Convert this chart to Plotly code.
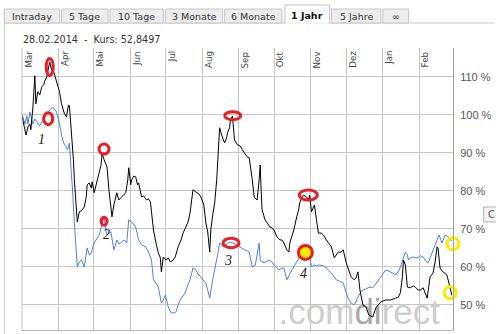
import plotly.graph_objects as go
import pandas as pd

# ---------------- data ----------------
START = pd.Timestamp("2013-03-01")

month_labels = ["Mär", "Apr", "Mai", "Jun", "Jul", "Aug", "Sep", "Okt", "Nov", "Dez", "Jan", "Feb"]
month_starts = ["2013-03-01", "2013-04-01", "2013-05-01", "2013-06-01", "2013-07-01", "2013-08-01",
                "2013-09-01", "2013-10-01", "2013-11-01", "2013-12-01", "2014-01-01", "2014-02-01"]
y_ticks = [50, 60, 70, 80, 90, 100, 110]
y_tick_labels = ["50 %", "60 %", "70 %", "80 %", "90 %", "100 %", "110 %"]

# days since 01.03.2013, value in % of start
black_day = [0, 1.7, 3.4, 5.0, 6.7, 7.5, 9.2, 10.9, 11.7, 13.4, 15.1, 16.8, 18.4, 19.3, 21.0, 21.8, 23.5, 25.1, 26.0, 27.7,
             29.3, 31.8, 33.5, 35.2, 36.0, 37.7, 39.4, 40.2, 41.1, 41.9, 42.7, 43.6, 44.4, 46.1, 46.9, 48.6, 51.1, 52.8, 54.5, 55.3,
             57.0, 58.7, 59.5, 61.2, 62.9, 65.4, 67.0, 67.9, 69.6, 72.1, 73.7, 76.3, 77.9, 80.4, 82.1, 83.8, 86.3, 88.0, 89.7, 90.5,
             92.2, 93.0, 94.7, 96.4, 98.0, 98.9, 101.4, 103.1, 105.6, 107.3, 108.9, 109.8, 111.5, 114.0, 115.6, 117.3, 118.2, 119.8, 122.3, 124.0,
             125.7, 128.2, 129.9, 132.4, 134.9, 136.6, 139.1, 140.8, 142.5, 144.1, 145.0, 147.5, 150.0, 151.7, 154.2, 155.9, 157.5, 159.2, 160.1, 161.7,
             163.4, 165.1, 165.9, 166.8, 167.6, 169.3, 171.8, 173.5, 174.3, 176.0, 176.8, 178.5, 179.3, 180.2, 182.7, 185.2, 186.9, 188.6, 191.1, 192.7,
             194.4, 195.3, 196.9, 199.4, 201.1, 202.0, 202.8, 203.6, 206.1, 207.8, 210.3, 212.0, 213.7, 216.2, 218.7, 220.4, 222.1, 224.6, 226.3, 227.1,
             228.8, 230.5, 233.0, 234.6, 235.5, 237.2, 238.8, 241.3, 243.0, 243.9, 245.5, 248.0, 249.7, 251.4, 253.9, 255.6, 258.1, 260.6, 262.3, 264.8,
             266.5, 268.2, 270.7, 272.4, 274.9, 277.4, 279.1, 281.6, 283.2, 284.9, 286.6, 289.1, 291.6, 294.1, 297.5, 300.0, 302.5, 304.2, 308.4, 312.6,
             316.8, 319.3, 320.9, 322.6, 323.5, 325.1, 326.8, 329.3, 331.8, 333.5, 336.0, 337.7, 340.2, 341.9, 343.6, 346.1, 348.6, 350.3, 352.0, 352.8,
             354.5, 357.0, 358.7, 360.3, 362.9, 364.5]
black_pct = [99.7, 97.4, 94.7, 96.8, 97.6, 96.1, 101.8, 110.3, 102.9, 106.1, 105.3, 107.4, 107.9, 108.9, 110.0, 111.3, 113.9, 111.8, 112.1, 110.5,
             108.9, 106.1, 102.9, 101.3, 100.3, 99.5, 102.6, 102.4, 98.7, 97.6, 93.4, 88.2, 82.9, 76.3, 71.8, 74.5, 75.0, 75.8, 78.4, 81.6,
             82.1, 80.8, 82.4, 79.5, 81.6, 84.7, 86.8, 90.0, 88.2, 86.3, 80.3, 73.2, 76.3, 79.5, 77.6, 78.2, 78.9, 79.5, 82.9, 86.1,
             81.6, 82.9, 83.9, 83.7, 81.6, 82.1, 78.4, 78.7, 77.6, 77.9, 77.1, 73.7, 69.7, 65.8, 63.7, 62.4, 58.7, 62.6, 61.8, 62.4,
             61.3, 61.8, 62.6, 65.3, 67.1, 68.9, 70.5, 71.8, 74.2, 77.6, 80.3, 79.7, 79.2, 78.4, 76.3, 71.6, 69.2, 63.9, 69.7, 73.7,
             76.8, 82.9, 86.8, 90.8, 96.6, 94.7, 92.6, 93.9, 95.3, 96.6, 98.7, 99.7, 96.1, 93.4, 92.1, 91.8, 90.8, 90.0, 88.9, 88.7,
             85.5, 82.9, 78.4, 77.6, 82.9, 86.8, 80.3, 75.0, 72.4, 71.6, 70.5, 70.3, 69.7, 67.9, 67.1, 67.1, 66.3, 64.5, 63.9, 66.3,
             67.9, 69.7, 73.2, 75.0, 76.8, 78.2, 78.9, 78.4, 77.6, 78.9, 74.5, 76.3, 72.4, 68.9, 68.9, 68.4, 67.1, 66.1, 65.3, 62.4,
             63.2, 63.9, 63.9, 64.5, 61.1, 58.7, 57.4, 56.6, 57.1, 58.7, 53.9, 50.0, 49.5, 47.4, 46.8, 49.2, 50.3, 50.8, 51.3, 51.3,
             51.8, 52.1, 53.2, 57.4, 61.8, 60.5, 54.7, 54.5, 55.0, 54.7, 53.9, 53.9, 54.5, 53.2, 51.8, 57.4, 58.4, 61.3, 65.3, 65.0,
             59.7, 58.7, 58.4, 57.9, 54.7, 52.6]

blue_day = [0, 1.7, 2.5, 4.2, 5.0, 6.7, 8.4, 9.2, 10.9, 12.6, 15.1, 16.8, 19.3, 21.8, 23.5, 26.0, 27.7, 29.3, 31.8, 33.5,
            34.4, 36.0, 37.7, 38.5, 40.2, 41.9, 42.7, 44.4, 46.9, 48.6, 50.3, 52.8, 55.3, 57.0, 58.7, 61.2, 63.7, 65.4, 67.0, 68.7,
            69.6, 71.2, 72.1, 73.7, 75.4, 77.9, 80.4, 82.1, 83.8, 86.3, 88.8, 90.5, 91.3, 93.0, 94.7, 96.4, 98.9, 101.4, 104.8, 107.3,
            109.8, 111.5, 114.0, 115.6, 118.2, 119.8, 121.5, 124.0, 125.7, 126.5, 129.1, 130.7, 132.4, 134.1, 136.6, 138.3, 140.8, 142.5, 145.0, 147.5,
            149.2, 151.7, 153.4, 155.9, 157.5, 159.2, 161.7, 164.2, 165.9, 167.6, 170.1, 171.8, 174.3, 176.0, 178.5, 180.2, 182.7, 184.4, 186.9, 188.6,
            191.1, 192.7, 195.3, 197.8, 199.4, 201.1, 202.0, 203.6, 205.3, 207.8, 209.5, 212.0, 213.7, 216.2, 217.9, 220.4, 222.1, 224.6, 227.1, 228.8,
            230.5, 233.0, 234.6, 237.2, 238.8, 241.3, 243.0, 245.5, 248.0, 249.7, 252.2, 255.6, 258.1, 262.3, 264.8, 266.5, 269.0, 272.4, 274.9, 276.5,
            279.1, 281.6, 283.2, 284.9, 287.4, 289.1, 291.6, 293.3, 295.8, 297.5, 300.0, 302.5, 304.2, 308.4, 310.9, 312.6, 315.1, 316.8, 319.3, 320.9,
            323.5, 325.1, 326.8, 327.7, 329.3, 331.8, 333.5, 336.0, 337.7, 340.2, 341.9, 344.4, 346.1, 348.6, 350.3, 352.0, 353.6, 355.3, 356.2, 357.8,
            358.7, 360.3, 362.9, 364.5]
blue_pct = [100.3, 98.7, 97.6, 99.7, 97.6, 100.8, 98.9, 97.6, 98.9, 98.2, 97.1, 98.2, 99.5, 100.5, 101.3, 102.1, 101.3, 100.8, 97.6, 94.5,
            93.4, 92.1, 91.6, 90.8, 92.6, 84.2, 81.1, 71.6, 60.0, 61.3, 61.8, 60.0, 65.0, 63.2, 63.7, 66.3, 67.6, 68.4, 70.3, 72.4,
            72.9, 69.7, 68.4, 68.9, 69.2, 64.5, 67.1, 66.1, 66.3, 67.1, 66.3, 72.4, 72.1, 71.8, 71.1, 70.5, 67.1, 65.8, 65.3, 63.9,
            61.8, 56.6, 55.5, 54.7, 50.5, 51.3, 52.6, 49.5, 48.4, 47.9, 47.9, 48.2, 50.0, 51.3, 52.4, 53.2, 55.3, 56.6, 59.7, 59.2,
            58.2, 57.4, 56.6, 55.8, 53.9, 51.8, 56.6, 60.0, 63.2, 66.3, 65.5, 65.3, 66.3, 66.6, 66.3, 66.3, 65.8, 65.3, 64.7, 64.5,
            64.2, 63.9, 60.0, 60.5, 63.2, 66.3, 61.8, 61.3, 61.1, 61.6, 61.8, 61.3, 60.5, 59.7, 59.2, 59.7, 59.7, 56.6, 58.4, 59.2,
            60.0, 61.3, 62.4, 63.7, 64.5, 64.7, 64.5, 60.0, 60.5, 60.3, 60.5, 60.3, 59.7, 58.4, 57.4, 56.6, 56.3, 55.8, 53.2, 51.8,
            50.5, 50.0, 50.8, 52.1, 53.4, 53.9, 54.2, 54.5, 54.7, 54.5, 55.5, 56.6, 57.6, 59.2, 58.9, 58.7, 58.2, 57.9, 58.9, 60.0,
            62.4, 63.9, 63.2, 61.8, 62.4, 62.6, 62.4, 62.4, 62.9, 62.6, 61.8, 61.1, 62.4, 64.5, 65.8, 67.1, 68.4, 67.1, 66.3, 67.6,
            68.4, 68.2, 67.6, 66.8]

# highlighted spots (day, %) and numbered labels
red_day = [23.5, 22.2, 69.6, 69.6, 178.7, 177.3, 242.8, 240.3]
red_pct = [112.6, 99.0, 91.0, 72.0, 99.8, 66.3, 78.9, 63.8]
yellow_day = [365.4, 363.1]
yellow_pct = [66.1, 53.2]
label_text = ["1", "2", "3", "4", "1"]
label_day = [16.2, 71.5, 174.9, 238.3, 365.9]
label_pct = [93.4, 68.4, 61.8, 58.2, 48.0]

tab_labels = ["Intraday", "5 Tage", "10 Tage", "3 Monate", "6 Monate", "1 Jahr", "5 Jahre", "\u221e"]
header_text = "28.02.2014\u00a0\u00a0-\u00a0\u00a0Kurs: 52,8497"

# ---------------- styling ----------------
W, H = 496, 334
ML, MR, MT, MB = 22, 38, 48, 4


def px(x):
    return (x - ML) / (W - ML - MR)


def py(y):
    return (H - MB - y) / (H - MT - MB)


def d(day):
    return (START + pd.Timedelta(days=day)).strftime("%Y-%m-%d %H:%M")


GRID = "#c4c4c4"
RED = "#ec1c24"
YEL = "#ffe900"

red_w = [7, 9, 10, 6, 16, 16, 18, 14]
red_h = [17, 12, 10, 8, 8, 9.5, 10, 14]
red_fill = [None, None, None, None, None, None, None, YEL]

fig = go.Figure()

# watermark (drawn first so lines sit on top)
fig.add_trace(go.Scatter(
    x=[d(286)], y=[47.4], mode="text",
    text=[".com<span style='color:#a8a8a8'>di</span>rect"],
    textfont=dict(size=35, family="Liberation Sans, Arial", color="#cdcdcd"),
    textposition="middle center", cliponaxis=False, hoverinfo="skip", showlegend=False))

fig.add_trace(go.Scatter(x=[d(v) for v in blue_day], y=blue_pct, mode="lines",
                         line=dict(color="#4f80d9", width=1), hoverinfo="skip", showlegend=False))
fig.add_trace(go.Scatter(x=[d(v) for v in black_day], y=black_pct, mode="lines",
                         line=dict(color="#000000", width=1), hoverinfo="skip", showlegend=False))
fig.add_trace(go.Scatter(x=[d(v) for v in yellow_day], y=yellow_pct, mode="markers",
                         marker=dict(symbol="circle-open", size=12, color=YEL, line=dict(width=3)),
                         cliponaxis=False, hoverinfo="skip", showlegend=False))

shapes = []
for dd, pp, w, h, f in zip(red_day, red_pct, red_w, red_h, red_fill):
    s = dict(type="circle", xref="x", yref="y", xsizemode="pixel", ysizemode="pixel",
             xanchor=d(dd), yanchor=pp, x0=-w / 2, x1=w / 2, y0=-h / 2, y1=h / 2,
             line=dict(color=RED, width=3), layer="above")
    if f:
        s["fillcolor"] = f
    shapes.append(s)

# left grid edge
shapes.append(dict(type="line", xref="paper", yref="paper", x0=0, x1=0, y0=0, y1=1,
                   line=dict(color=GRID, width=1)))
# widget frame
shapes.append(dict(type="line", xref="paper", yref="paper", x0=px(4), x1=px(4), y0=py(23), y1=py(340),
                   line=dict(color="#cccccc", width=1)))
shapes.append(dict(type="line", xref="paper", yref="paper", x0=px(4), x1=px(500), y0=py(23), y1=py(23),
                   line=dict(color="#c8c8c8", width=1)))

tab_x = [(4, 60), (62, 109), (111, 165), (167, 225), (227, 285), (288, 333), (335, 385), (387, 413)]
annotations = []
for i, (lab, (x0, x1)) in enumerate(zip(tab_labels, tab_x)):
    active = (i == 5)
    shapes.append(dict(type="rect", xref="paper", yref="paper", x0=px(x0), x1=px(x1),
                       y0=py(23), y1=py(5 if active else 9),
                       fillcolor="#ffffff" if active else "#ececec",
                       line=dict(color="#c6c6c6", width=1)))
    annotations.append(dict(x=px((x0 + x1) / 2), y=py(16.5 if not active else 15.5), xref="paper", yref="paper",
                            text=("<b>%s</b>" % lab) if active else lab, showarrow=False,
                            xanchor="center", yanchor="middle",
                            font=dict(size=9.5, family="DejaVu Sans", color="#111" if active else "#333")))
shapes.append(dict(type="line", xref="paper", yref="paper", x0=px(288.7), x1=px(332.3), y0=py(23), y1=py(23),
                   line=dict(color="#ffffff", width=1.5)))

# cut-off button at right
shapes.append(dict(type="rect", xref="paper", yref="paper", x0=px(489), x1=px(502), y0=py(222), y1=py(207),
                   fillcolor="#f3f3f3", line=dict(color="#b0b0b0", width=1)))
annotations.append(dict(x=px(491), y=py(214.5), xref="paper", yref="paper", text="C", showarrow=False,
                        xanchor="left", yanchor="middle", font=dict(size=10, family="DejaVu Sans", color="#555")))

# header
annotations.append(dict(x=px(21), y=py(40), xref="paper", yref="paper", text=header_text, showarrow=False,
                        xanchor="left", yanchor="middle", font=dict(size=9.6, family="DejaVu Sans", color="#333")))

# month labels (rotated)
for m, lab in zip(month_starts, month_labels):
    annotations.append(dict(x=m, y=1, xref="x", yref="paper", text=lab, textangle=-90, showarrow=False,
                            xanchor="left", yanchor="top", xshift=-1, yshift=-1,
                            font=dict(size=8.7, family="DejaVu Sans", color="#444")))

# numbered labels
for t, dd, pp in zip(label_text, label_day, label_pct):
    annotations.append(dict(x=d(dd), y=pp, xref="x", yref="y", text="<i>%s</i>" % t, showarrow=False,
                            xanchor="center", yanchor="middle",
                            font=dict(size=14, family="Liberation Serif", color="#222")))

fig.update_layout(
    width=W, height=H, margin=dict(l=ML, r=MR, t=MT, b=MB, pad=0),
    paper_bgcolor="white", plot_bgcolor="white",
    showlegend=False, shapes=shapes, annotations=annotations,
    xaxis=dict(type="date", range=[d(0), d(365.5)], tickvals=month_starts, showticklabels=False,
               showgrid=True, gridcolor=GRID, gridwidth=1, zeroline=False,
               showline=True, linecolor="#b8b8b8", linewidth=1, ticks=""),
    yaxis=dict(range=[43.4, 117.6], side="right", tickmode="array", tickvals=y_ticks, ticktext=y_tick_labels,
               showgrid=True, gridcolor=GRID, gridwidth=1, zeroline=False,
               showline=True, linecolor="#a0a0a0", linewidth=1, ticks="",
               ticklabelstandoff=4,
               tickfont=dict(size=11, family="Liberation Sans, Arial", color="#555")),
)

fig.write_html("out.html")
